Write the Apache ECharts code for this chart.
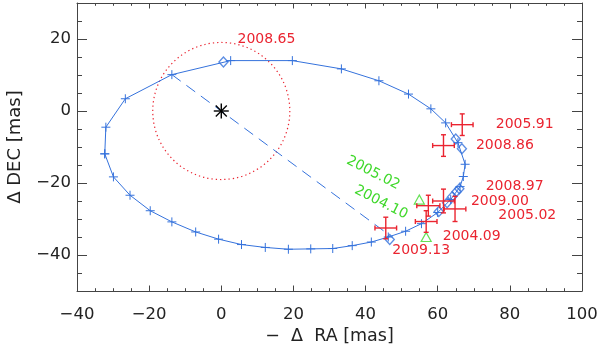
<!DOCTYPE html>
<html>
<head>
<meta charset="utf-8">
<script src="https://cdn.jsdelivr.net/npm/echarts@6/dist/echarts.min.js"></script>
<style>html,body{margin:0;padding:0;background:#fff;overflow:hidden}#c{width:600px;height:347px}</style>
</head>
<body>
<div id="c"></div>
<script>
// ---- data (mas) ----
const orbit = [[-32.3,-11.9],[-32.0,-4.5],[-26.6,3.4],[-13.7,10.1],[2.6,14.0],[19.7,14.0],[33.3,11.7],[43.7,8.4],[51.9,4.7],[58.1,0.6],[62.2,-3.3],[65.6,-8.8],[67.6,-14.8],[67.1,-18.2],[66.2,-21.0],[63.6,-24.6],[60.0,-28.2],[55.5,-31.3],[51.1,-33.4],[46.3,-35.0],[41.6,-36.4],[36.3,-37.4],[30.9,-38.2],[24.8,-38.3],[18.6,-38.4],[12.2,-37.9],[5.6,-37.1],[-0.75,-35.6],[-7.1,-33.6],[-13.7,-30.8],[-19.7,-27.7],[-25.3,-23.4],[-29.9,-18.3],[-32.3,-11.9]];
const nodeLine = [[-13.7,10.1],[45.0,-33.3]];
const predicted = [[0.6,13.6],[65.0,-7.8],[66.7,-10.5],[66.0,-21.6],[65.2,-22.4],[64.0,-23.8],[62.6,-25.5],[60.3,-27.9],[46.7,-35.7]];
// [x, y, xerr, yerr]
const measured = [[66.8,-3.8,3.0,3.0],[61.6,-9.6,3.0,3.0],[61.6,-25.0,3.0,3.3],[57.4,-26.3,3.2,2.9],[64.8,-27.2,3.0,3.5],[56.8,-30.7,3.0,3.0],[45.6,-32.5,3.0,3.0]];
const otherInstr = [[54.9,-24.6],[56.8,-35.0]];
const star = [[0,0]];
// [x, y, radius]
const coronagraph = [[0,0,19]];
// [text, x, y]
const redLabels = [["2008.65",4.5,20.0],["2005.91",76.1,-3.8],["2008.86",70.6,-9.6],["2008.97",73.3,-20.9],["2009.00",69.2,-25.1],["2005.02",76.8,-29.1],["2004.09",61.4,-34.8],["2009.13",47.4,-38.7]];
const greenLabels = [["2005.02",42.1,-17.2],["2004.10",44.3,-25.4]];
const yTickValues = [-40,-20,0,20];
const yMinorValues = [-50,-45,-40,-35,-30,-25,-20,-15,-10,-5,0,5,10,15,20,25,30];

const BLUE = '#3572dc', RED = '#ea2430', GREEN = '#3fd82a', AX = '#444', TXT = '#222';
const FONT = 'DejaVu Sans';
const minus = v => String(v).replace('-', '\u2212');

const chart = echarts.init(document.getElementById('c'), null, {renderer: 'canvas'});

function plusItem(params, api) {
  const p = api.coord([api.value(0), api.value(1)]);
  const h = 4.5;
  const st = {stroke: BLUE, lineWidth: 1};
  return {type: 'group', children: [
    {type: 'line', shape: {x1: p[0]-h, y1: p[1], x2: p[0]+h, y2: p[1]}, style: st},
    {type: 'line', shape: {x1: p[0], y1: p[1]-h, x2: p[0], y2: p[1]+h}, style: st}
  ]};
}
function errItem(params, api) {
  const x = api.value(0), y = api.value(1), xe = api.value(2), ye = api.value(3);
  const l = api.coord([x-xe, y]), r = api.coord([x+xe, y]);
  const t = api.coord([x, y+ye]), b = api.coord([x, y-ye]);
  const c = 2.5;
  const st = {stroke: RED, lineWidth: 1.4};
  return {type: 'group', children: [
    {type: 'line', shape: {x1: l[0], y1: l[1], x2: r[0], y2: r[1]}, style: st},
    {type: 'line', shape: {x1: t[0], y1: t[1], x2: b[0], y2: b[1]}, style: st},
    {type: 'line', shape: {x1: l[0], y1: l[1]-c, x2: l[0], y2: l[1]+c}, style: st},
    {type: 'line', shape: {x1: r[0], y1: r[1]-c, x2: r[0], y2: r[1]+c}, style: st},
    {type: 'line', shape: {x1: t[0]-c, y1: t[1], x2: t[0]+c, y2: t[1]}, style: st},
    {type: 'line', shape: {x1: b[0]-c, y1: b[1], x2: b[0]+c, y2: b[1]}, style: st}
  ]};
}
function starItem(params, api) {
  const p = api.coord([api.value(0), api.value(1)]);
  const h = 7.5, d = 5.5;
  const st = {stroke: '#000', lineWidth: 1.4};
  return {type: 'group', children: [
    {type: 'line', shape: {x1: p[0]-h, y1: p[1], x2: p[0]+h, y2: p[1]}, style: st},
    {type: 'line', shape: {x1: p[0], y1: p[1]-h, x2: p[0], y2: p[1]+h}, style: st},
    {type: 'line', shape: {x1: p[0]-d, y1: p[1]-d, x2: p[0]+d, y2: p[1]+d}, style: st},
    {type: 'line', shape: {x1: p[0]-d, y1: p[1]+d, x2: p[0]+d, y2: p[1]-d}, style: st}
  ]};
}
function circleItem(params, api) {
  const p = api.coord([api.value(0), api.value(1)]);
  const s = api.size([api.value(2), api.value(2)]);
  return {type: 'circle', shape: {cx: p[0], cy: p[1], r: s[0]},
    style: {fill: 'none', stroke: RED, lineWidth: 1.2, lineDash: [1.3, 3]}};
}
function labelRenderer(list, color, align, rot) {
  return function (params, api) {
    const it = list[params.dataIndex];
    const p = api.coord([it[1], it[2]]);
    return {type: 'text', x: p[0], y: p[1], rotation: rot,
      style: {text: it[0], fill: color, font: '14px "' + FONT + '"', align: align, verticalAlign: 'middle'}};
  };
}

const axisLineStyle = {show: true, onZero: false, lineStyle: {color: AX, width: 1}};
const labelStyle = {color: TXT, fontFamily: FONT, fontSize: 16.5};
const gridBox = {left: 77, right: 18, top: 3, bottom: 56, containLabel: false, outerBoundsMode: 'none'};

chart.setOption({
  animation: false,
  grid: [Object.assign({}, gridBox), Object.assign({}, gridBox)],
  xAxis: [
    {gridIndex: 0, type: 'value', position: 'bottom', min: -40, max: 100, interval: 20,
     axisLine: axisLineStyle, splitLine: {show: false},
     axisTick: {inside: true, length: 5.5, lineStyle: {color: AX}},
     minorTick: {show: true, splitNumber: 4, length: 2.8, lineStyle: {color: AX}},
     axisLabel: Object.assign({margin: 15, formatter: minus}, labelStyle),
     name: '\u2212  \u0394  RA [mas]', nameLocation: 'middle', nameGap: 22,
     nameTextStyle: {color: TXT, fontFamily: FONT, fontSize: 17.5}},
    {gridIndex: 0, type: 'value', position: 'top', min: -40, max: 100, interval: 20,
     axisLine: axisLineStyle, splitLine: {show: false},
     axisTick: {inside: true, length: 5.5, lineStyle: {color: AX}},
     minorTick: {show: true, splitNumber: 4, length: 2.8, lineStyle: {color: AX}},
     axisLabel: {show: false}},
    {gridIndex: 1, type: 'value', show: false, min: -40, max: 100}
  ],
  yAxis: [
    {gridIndex: 0, type: 'value', position: 'left', min: -50, max: 30,
     axisLine: axisLineStyle, splitLine: {show: false},
     axisTick: {inside: true, length: 10, customValues: yTickValues, lineStyle: {color: AX}},
     axisLabel: Object.assign({margin: 6, customValues: yTickValues, formatter: minus}, labelStyle),
     name: '\u0394 DEC [mas]', nameLocation: 'middle', nameGap: 53,
     nameTextStyle: {color: TXT, fontFamily: FONT, fontSize: 18}},
    {gridIndex: 0, type: 'value', position: 'right', min: -50, max: 30,
     axisLine: axisLineStyle, splitLine: {show: false},
     axisTick: {inside: true, length: 10, customValues: yTickValues, lineStyle: {color: AX}},
     axisLabel: {show: false}},
    {gridIndex: 1, type: 'value', position: 'left', min: -50, max: 30,
     axisLine: {show: false, onZero: false}, splitLine: {show: false},
     axisTick: {show: true, inside: true, length: 5, customValues: yMinorValues, lineStyle: {color: AX}},
     axisLabel: {show: false}},
    {gridIndex: 1, type: 'value', position: 'right', min: -50, max: 30,
     axisLine: {show: false, onZero: false}, splitLine: {show: false},
     axisTick: {show: true, inside: true, length: 5, customValues: yMinorValues, lineStyle: {color: AX}},
     axisLabel: {show: false}}
  ],
  series: [
    {type: 'line', data: orbit, symbol: 'none', xAxisIndex: 0, yAxisIndex: 0,
     lineStyle: {color: BLUE, width: 1}, z: 2},
    {type: 'custom', data: orbit, renderItem: plusItem, xAxisIndex: 0, yAxisIndex: 0, encode: {x: 0, y: 1}, z: 3},
    {type: 'line', data: nodeLine, symbol: 'none', xAxisIndex: 0, yAxisIndex: 0,
     lineStyle: {color: BLUE, width: 1, type: [11, 7]}, z: 2},
    {type: 'custom', data: coronagraph, renderItem: circleItem, xAxisIndex: 0, yAxisIndex: 0, encode: {x: 0, y: 1}, z: 2},
    {type: 'custom', data: star, renderItem: starItem, xAxisIndex: 0, yAxisIndex: 0, encode: {x: 0, y: 1}, z: 4},
    {type: 'scatter', data: predicted, symbol: 'diamond', symbolSize: [9, 10], xAxisIndex: 0, yAxisIndex: 0,
     itemStyle: {color: 'rgba(255,255,255,0)', borderColor: BLUE, borderWidth: 1.4}, z: 5},
    {type: 'scatter', data: otherInstr, symbol: 'triangle', symbolSize: [10, 9], xAxisIndex: 0, yAxisIndex: 0,
     itemStyle: {color: 'rgba(255,255,255,0)', borderColor: GREEN, borderWidth: 1.2}, z: 5},
    {type: 'custom', data: measured, renderItem: errItem, xAxisIndex: 0, yAxisIndex: 0, encode: {x: 0, y: 1}, z: 6},
    {type: 'custom', data: redLabels.map(d => [d[1], d[2]]), renderItem: labelRenderer(redLabels, RED, 'left', 0),
     xAxisIndex: 0, yAxisIndex: 0, encode: {x: 0, y: 1}, z: 7},
    {type: 'custom', data: greenLabels.map(d => [d[1], d[2]]), renderItem: labelRenderer(greenLabels, GREEN, 'center', -27 * Math.PI / 180),
     xAxisIndex: 0, yAxisIndex: 0, encode: {x: 0, y: 1}, z: 7}
  ]
});
</script>
</body>
</html>
